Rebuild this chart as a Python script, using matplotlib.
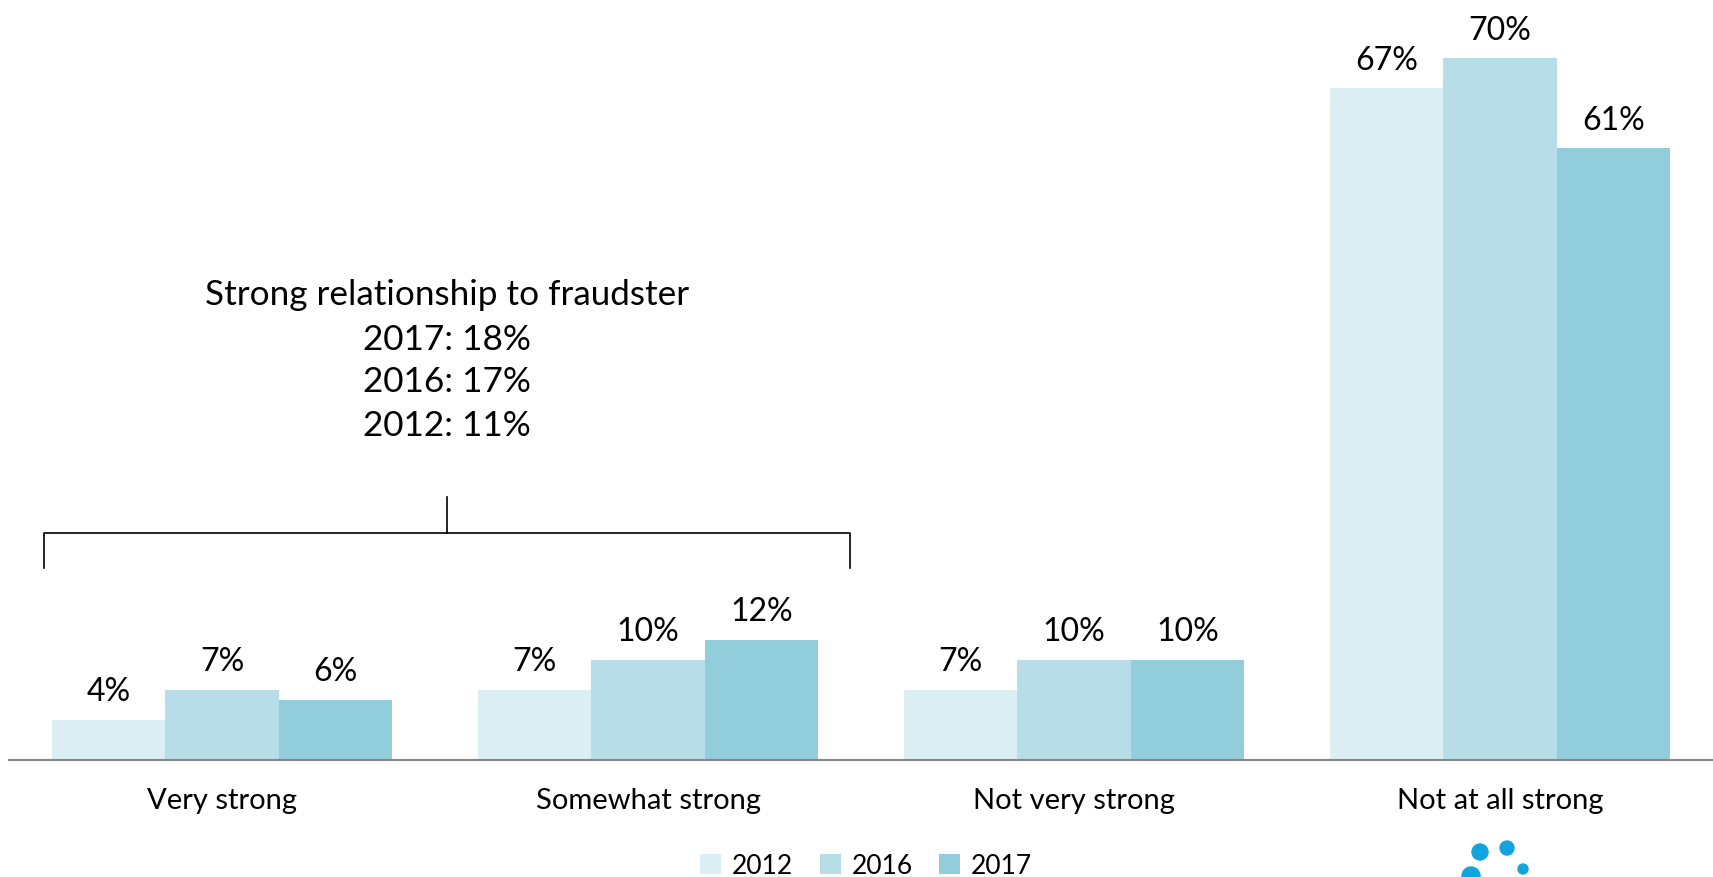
import matplotlib
matplotlib.use("Agg")
import matplotlib.pyplot as plt
from matplotlib.patches import Ellipse
import numpy as np

categories = ["Very strong", "Somewhat strong", "Not very strong", "Not at all strong"]
years = ["2012", "2016", "2017"]
v2012 = [4, 7, 7, 67]
v2016 = [7, 10, 10, 70]
v2017 = [6, 12, 10, 61]
colors = ["#DAEEF3", "#B7DEE8", "#92CDDC"]
annot_lines = ["Strong relationship to fraudster", "2017: 18%", "2016: 17%", "2012: 11%"]

plt.rcParams['font.family'] = ['Lato', 'DejaVu Sans']

W, H = 1713, 877
fig = plt.figure(figsize=(W / 100, H / 100), dpi=100)
ax = fig.add_axes([9 / W, (H - 760) / H, (W - 9) / W, 760 / H])

x = np.arange(len(categories))
bw = 0.8 / 3
series = [v2012, v2016, v2017]
for i, (vals, c, yr) in enumerate(zip(series, colors, years)):
    pos = x + (i - 1) * bw
    ax.bar(pos, vals, width=bw, color=c, label=yr, zorder=2)
    for p, v in zip(pos, vals):
        ax.annotate(f"{v}%", (p, v), xytext=(0, 9), textcoords="offset points",
                    ha="center", va="bottom", fontsize=23, color="#000000")

ax.set_xlim(-0.5, 3.5)
ax.set_ylim(0, 75.8)
for s in ["top", "right", "left"]:
    ax.spines[s].set_visible(False)
ax.spines["bottom"].set_color("#868686")
ax.spines["bottom"].set_linewidth(1.5)
ax.set_yticks([])
ax.set_xticks(x)
ax.set_xticklabels(categories, fontsize=21)
ax.tick_params(axis="x", length=0, pad=20)

# bracket
bl, br, bm = -0.418, 1.474, 0.528
yh, yb, yt = 22.6, 19.1, 26.2
ax.plot([bl, bl, br, br], [yb, yh, yh, yb], color="#000000", lw=1.2, clip_on=False)
ax.plot([bm, bm], [yh, yt], color="#000000", lw=1.2, clip_on=False)
for txt, yy in zip(annot_lines, [46.4, 41.9, 37.7, 33.3]):
    ax.text(bm, yy, txt, ha="center", va="center", fontsize=25.3)

fig.legend(loc="center", bbox_to_anchor=(866 / W, 1 - 866 / H), ncol=3,
           frameon=False, fontsize=19, handlelength=0.8, handleheight=0.8,
           columnspacing=1.0, handletextpad=0.4)

# decorative logo dots (partially cropped at bottom)
for cx, cy, r in [(1480, 852, 8), (1507, 848, 7), (1523, 869, 5), (1471, 876, 9)]:
    fig.patches.append(Ellipse((cx / W, 1 - cy / H), 2 * r / W, 2 * r / H,
                               transform=fig.transFigure, color="#13A4DD", zorder=5))

fig.savefig("out.png", dpi=100)
